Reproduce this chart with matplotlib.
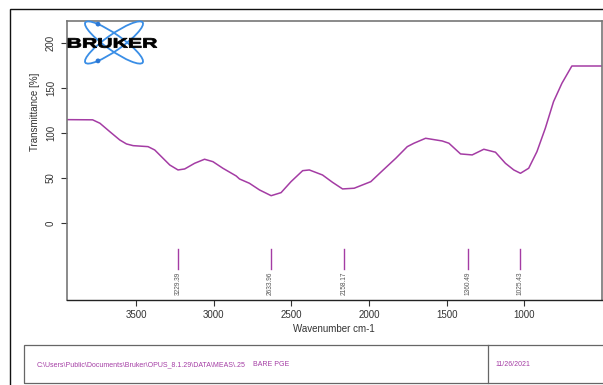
import numpy as np
import matplotlib.pyplot as plt
from matplotlib.patches import Ellipse, Rectangle, Circle, PathPatch
from matplotlib.textpath import TextPath
from matplotlib.font_manager import FontProperties
from matplotlib.transforms import Affine2D

plt.rcParams['font.family'] = ['Liberation Sans', 'DejaVu Sans']

# spectrum, wavenumber (cm-1) vs transmittance (%)
wavenumber = [3945, 3780, 3733, 3669, 3605, 3562, 3519, 3423, 3380, 3337,
              3283, 3230, 3187, 3123, 3059, 3005, 2941, 2855, 2834, 2770,
              2705, 2630, 2566, 2502, 2427, 2384, 2299, 2235, 2170, 2095,
              1988, 1913, 1827, 1753, 1710, 1635, 1528, 1485, 1410, 1335,
              1260, 1185, 1121, 1067, 1024, 971, 918, 864, 811, 757,
              693, 502]
transmittance = [114.8, 114.6, 110.8, 101.4, 92.2, 87.8, 85.9, 84.8, 81.1, 73.7,
                 64.4, 58.9, 60.0, 66.3, 70.8, 68.1, 60.8, 52.2, 48.9, 44.1,
                 36.7, 30.3, 33.7, 45.9, 58.1, 58.9, 53.3, 45.2, 37.8, 38.6,
                 45.9, 58.1, 71.9, 84.8, 88.6, 94.1, 91.1, 88.6, 76.7, 75.6,
                 81.9, 78.6, 66.3, 58.9, 55.2, 60.8, 79.2, 105.2, 134.8, 155.2,
                 174.4, 174.4]

peaks = [3229.39, 2633.96, 2158.17, 1360.49, 1025.43]
yticks = [0, 50, 100, 150, 200]
xticks = [3500, 3000, 2500, 2000, 1500, 1000]

file_path = r'C:\Users\Public\Documents\Bruker\OPUS_8.1.29\DATA\MEAS\.25'
sample = 'BARE PGE'
date = '11/26/2021'

W, H = 603, 385
purple = '#a43ca4'

fig = plt.figure(figsize=(W / 100, H / 100), dpi=100)


def fx(px):
    return px / W


def fy(py):
    return 1 - py / H


ax = fig.add_axes([fx(67), fy(300), fx(601.5) - fx(67), fy(21) - fy(300)])
ax.plot(wavenumber, transmittance, color=purple, lw=1.1)
ax.set_xlim(3945, 502)
ax.set_ylim(-85.6, 224.4)

# peak markers with rotated labels
for p in peaks:
    ax.plot([p, p], [-29, -51], color=purple, lw=1.0)
    ax.text(p, -54, f'{p:.2f}', rotation=90, ha='center', va='top',
            fontsize=4.7, color='#555555')

ax.set_yticks(yticks)
ax.set_yticklabels([str(v) for v in yticks], rotation=90, va='center')
ax.set_xticks(xticks)
ax.tick_params(axis='both', labelsize=7, length=4, width=0.8,
               color='#333333', labelcolor='#333333', pad=3)
ax.tick_params(axis='y', pad=4)
for side in ['left', 'top', 'right']:
    ax.spines[side].set_color('#777777')
    ax.spines[side].set_linewidth(1.2)
ax.spines['bottom'].set_color('#222222')
ax.spines['bottom'].set_linewidth(1.0)
ax.set_xlabel('Wavenumber cm-1', fontsize=7, color='#333333', labelpad=3)
fig.text(fx(35), fy(112), 'Transmittance [%]', rotation=90, fontsize=7,
         color='#333333', ha='center', va='center')

# logo: two crossed orbits and the wordmark
lax = fig.add_axes([fx(67), fy(65), fx(160) - fx(67), fy(21) - fy(65)])
lax.set_xlim(0, 93)
lax.set_ylim(0, 44)
lax.axis('off')
cx0, cy0, a, b = 47, 22.5, 35, 8
t = np.linspace(0, 2 * np.pi, 721)
for upper, ang in ((True, -35), (False, 35)):
    lax.add_patch(Ellipse((cx0, cy0), 2 * a, 2 * b, angle=ang, fill=False,
                          ec='#3a8ee6', lw=1.3, clip_on=False))
    th = np.radians(ang)
    ex = cx0 + a * np.cos(t) * np.cos(th) - b * np.sin(t) * np.sin(th)
    ey = cy0 + a * np.cos(t) * np.sin(th) + b * np.sin(t) * np.cos(th)
    side = ey > cy0 if upper else ey < cy0
    k = np.argmin(np.abs(ex - 31) + np.where(side, 0, 1e3))
    lax.add_patch(Circle((ex[k], ey[k]), 1.7, color='#2a78d6', clip_on=False))

tp = TextPath((0, 0), 'BRUKER', size=10,
              prop=FontProperties(family='Liberation Sans', weight='bold'))
ext = tp.get_extents()
sx = 89 / ext.width
sy = 9.5 / ext.height
tr = Affine2D().translate(-ext.x0, -ext.y0).scale(sx, sy).translate(1, 22 - 4.75)
lax.add_patch(PathPatch(tr.transform_path(tp), fc='black', ec='black', lw=0.6,
                        clip_on=False))

# outer frame
fig.patches.append(Rectangle((fx(10), -0.1), 1.0, fy(9) + 0.1,
                             transform=fig.transFigure, fill=False,
                             ec='#111111', lw=1.0))

# info box along the bottom
fig.patches.append(Rectangle((fx(24), fy(383)), 1.0, fy(345) - fy(383),
                             transform=fig.transFigure, fill=False,
                             ec='#666666', lw=0.9))
fig.add_artist(plt.Line2D([fx(488), fx(488)], [fy(383), fy(345)],
                          transform=fig.transFigure, color='#666666', lw=0.9))
fig.text(fx(37), fy(365), file_path, fontsize=5, color=purple, va='center')
fig.text(fx(253), fy(365), sample, fontsize=5, color=purple, va='center')
fig.text(fx(495), fy(365), date, fontsize=5, color=purple, va='center')

fig.savefig('out.png', dpi=100)
